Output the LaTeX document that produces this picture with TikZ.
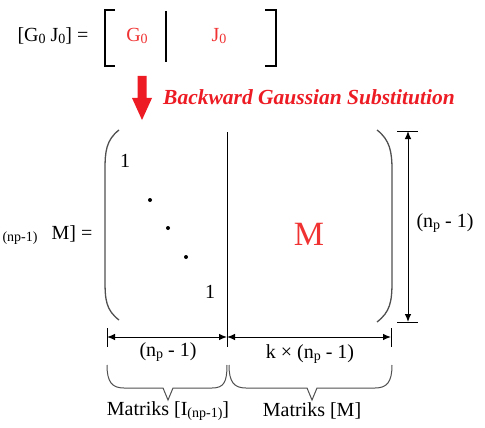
\documentclass[tikz,border=0pt]{standalone}
\usepackage{fontspec}
\setmainfont{Liberation Serif}
\usetikzlibrary{arrows.meta}
\definecolor{tred}{RGB}{237,28,36}
\definecolor{tred2}{RGB}{240,50,50}
\definecolor{pgray}{RGB}{80,80,80}
\newcommand\mysub[1]{\raisebox{-1.5pt}{\fontsize{14}{14}\selectfont #1}}
\begin{document}
\begin{tikzpicture}[x=1pt,y=-1pt,
 txt/.style={font=\fontsize{20}{24}\selectfont, inner sep=0pt},
 smalltxt/.style={font=\fontsize{14}{16}\selectfont, inner sep=0pt},
 dimline/.style={line width=1pt, {Latex[length=8pt,width=6.5pt]}-{Latex[length=8pt,width=6.5pt]}},
 tickline/.style={line width=1pt},
 paren/.style={line width=1.3pt, draw=pgray},
 brk/.style={line width=1.9pt},
 bracestyle/.style={line width=1pt, draw=pgray},
 dotstyle/.style={circle, fill=black, inner sep=0pt, minimum size=4pt}]
\useasboundingbox (0,0) rectangle (485,428);

% top row
\node[txt] (lhs0) at (53,36) {[G\mysub{0} J\mysub{0}] =};
\node[txt,text=tred2] (g0) at (137,36) {G\mysub{0}};
\node[txt,text=tred2] (j0) at (219,36) {J\mysub{0}};
\draw[brk] (115,10) -- (105,10) -- (105,66) -- (115,66);
\draw[brk] (265,10) -- (276,10) -- (276,66) -- (265,66);
\coordinate (mt) at (166,11);
\coordinate (mb) at (166,62);
\draw[line width=1.2pt] (mt) -- (mb);

% red arrow
\fill[tred] (137.5,76) -- (146.5,76) -- (146.5,98) -- (152,98) -- (142,120) -- (132,98) -- (137.5,98) -- cycle;
\node[font=\fontsize{21.5}{26}\selectfont\bfseries\itshape, text=tred, anchor=west, inner sep=0pt] (bgs) at (163,97) {Backward Gaussian Substitution};

% left hand side
\node[smalltxt] (sub) at (20,238) {(np-1)};
\node[txt] (lhs1) at (72,234) {M] =};

% matrix
\draw[paren] (119,130) .. controls (106,140) and (105,152) .. (105,170) -- (105,280) .. controls (105,300) and (106,310) .. (119,320);
\draw[paren] (377,130) .. controls (390,140) and (392,152) .. (392,170) -- (392,282) .. controls (392,302) and (390,312) .. (377,322);
\coordinate (vt) at (227,132);
\coordinate (vb) at (227,347);
\draw[line width=1pt] (vt) -- (vb);
\node[txt] (one1) at (125,161) {1};
\node[dotstyle] (d1) at (150,200) {};
\node[dotstyle] (d2) at (168,228) {};
\node[dotstyle] (d3) at (186,257) {};
\node[txt] (one2) at (210,292) {1};
\node[font=\fontsize{34}{40}\selectfont, text=tred2, inner sep=0pt] (bigM) at (309,234) {M};

% right dimension
\coordinate (rt) at (408,131);
\coordinate (rb) at (408,322);
\draw[tickline] (397,131) -- (418,131);
\draw[tickline] (397,322) -- (418,322);
\draw[dimline] (rt) -- (rb);
\node[txt] (rlab) at (445,223) {(n\mysub{p} - 1)};

% bottom dimension
\coordinate (bl) at (107,337);
\coordinate (bm) at (227,337);
\coordinate (br) at (391,337);
\draw[tickline] (107,328) -- (107,347);
\draw[tickline] (391,328) -- (391,347);
\draw[dimline] (bl) -- (bm);
\draw[dimline] (bm) -- (br);
\node[txt] (blab1) at (168,352) {(n\mysub{p} - 1)};
\node[txt] (blab2) at (310,354) {k × (n\mysub{p} - 1)};

% braces
\draw[bracestyle] (107,365) .. controls (107,382) and (112,388) .. (124,388) -- (163,388) -- (168,400) -- (173,388) -- (212,388) .. controls (224,388) and (227,382) .. (227,365);
\draw[bracestyle] (229,365) .. controls (229,382) and (234,388) .. (246,388) -- (307,388) -- (312,400) -- (317,388) -- (375,388) .. controls (387,388) and (392,382) .. (392,365);

\node[txt] (ml) at (168,411) {Matriks [I\mysub{(np-1)}]};
\node[txt] (mr) at (312,411) {Matriks [M]};
\end{tikzpicture}
\end{document}
